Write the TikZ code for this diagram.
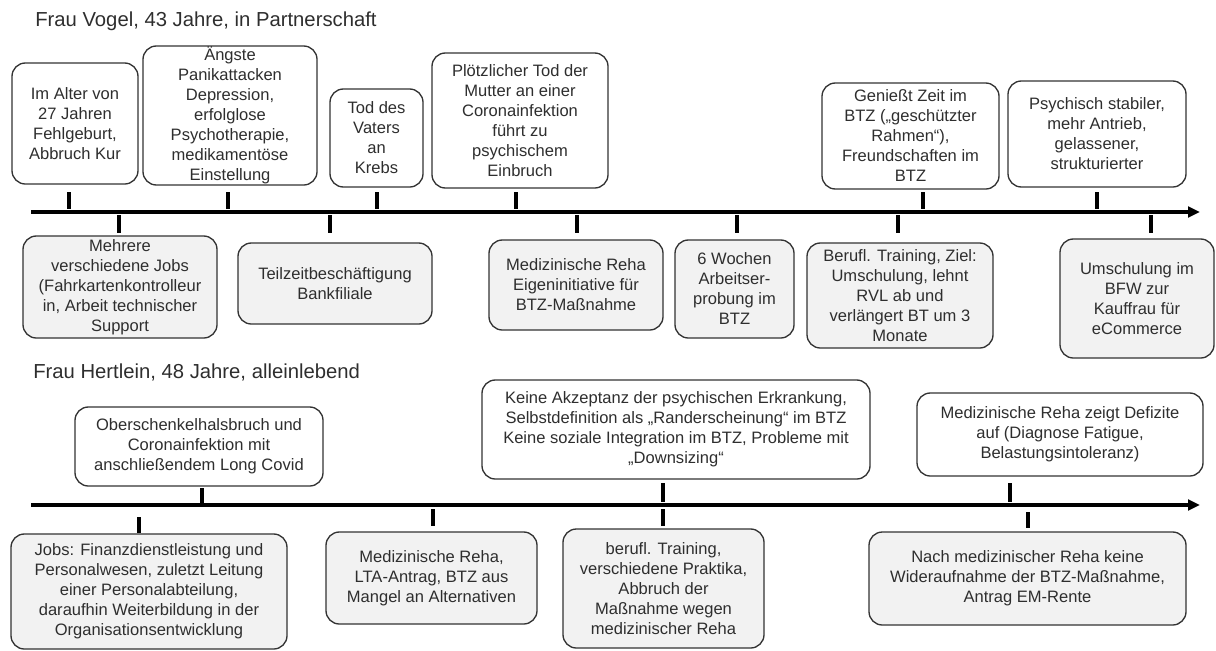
\documentclass[tikz,border=0pt]{standalone}
\usepackage{fontspec}
\setmainfont{Liberation Sans}
\usetikzlibrary{arrows.meta}
\definecolor{txt}{HTML}{2E2E2E}
\definecolor{bord}{HTML}{333333}
\definecolor{fillg}{HTML}{F2F2F2}
\tikzset{
  box/.style={draw=bord, line width=1pt, rounded corners=10pt, align=center,
    inner sep=0pt, text=txt, font=\fontsize{12.4}{15}\selectfont},
  upbox/.style={box, fill=white},
  lowbox/.style={box, fill=fillg},
  tline/.style={line width=3pt, -{Triangle[length=9pt,width=8pt]}},
  tick/.style={line width=2.6pt},
  title/.style={anchor=base west, inner sep=0pt, text=txt, font=\fontsize{15.2}{18}\selectfont},
}
\begin{document}
\begin{tikzpicture}[x=0.75pt,y=-0.75pt]
\useasboundingbox (0,0) rectangle (1216,650);
% ---------- Frau Vogel ----------
\node[title] (t1) at (35,26) {Frau Vogel, 43 Jahre, in Partnerschaft};
\coordinate (l1s) at (31,212);
\coordinate (l1e) at (1200,212);
\draw[tline] (l1s) -- (l1e);

\node[upbox, minimum width=94.5pt, minimum height=90.75pt] (a1) at (75,123.5)
  {Im Alter von\\27 Jahren\\Fehlgeburt,\\Abbruch Kur};
\node[upbox, minimum width=130.5pt, minimum height=104.25pt] (a2) at (230,115.5)
  {Ängste\\Panikattacken\\Depression,\\erfolglose\\Psychotherapie,\\medikamentöse\\Einstellung};
\node[upbox, minimum width=69.75pt, minimum height=73.5pt] (a3) at (376.5,138)
  {Tod des\\Vaters\\an\\Krebs};
\node[upbox, minimum width=132pt, minimum height=101.25pt] (a4) at (520,120.5)
  {Plötzlicher Tod der\\Mutter an einer\\Coronainfektion\\führt zu\\psychischem\\Einbruch};
\node[upbox, minimum width=132.75pt, minimum height=79.5pt] (a5) at (910.5,136)
  {Genießt Zeit im\\BTZ („geschützter\\Rahmen“),\\Freundschaften im\\BTZ};
\node[upbox, minimum width=133.5pt, minimum height=79.5pt] (a6) at (1097,134)
  {Psychisch stabiler,\\mehr Antrieb,\\gelassener,\\strukturierter};

\foreach \x in {69,228,377,516,923,1097} \draw[tick] (\x,192) -- (\x,209);
\foreach \x in {119,330,577,737,898,1151} \draw[tick] (\x,215) -- (\x,233);

\node[lowbox, minimum width=145.5pt, minimum height=76.5pt] (b1) at (120,287)
  {Mehrere\\verschiedene Jobs\\(Fahrkartenkontrolleur\\in, Arbeit technischer\\Support};
\node[lowbox, minimum width=145.5pt, minimum height=60.75pt] (b2) at (335,283.5)
  {Teilzeitbeschäftigung\\Bankfiliale};
\node[lowbox, minimum width=130.5pt, minimum height=67.5pt] (b3) at (576,285)
  {Medizinische Reha\\Eigeninitiative für\\BTZ-Maßnahme};
\node[lowbox, minimum width=89.25pt, minimum height=73.5pt] (b4) at (734.5,289)
  {6 Wochen\\Arbeitser-\\probung im\\BTZ};
\node[lowbox, minimum width=139.5pt, minimum height=78.75pt] (b5) at (900,295.5)
  {Berufl. Training, Ziel:\\Umschulung, lehnt\\RVL ab und\\verlängert BT um 3\\Monate};
\node[lowbox, minimum width=115.5pt, minimum height=89.25pt] (b6) at (1137,298.5)
  {Umschulung im\\BFW zur\\Kauffrau für\\eCommerce};

% ---------- Frau Hertlein ----------
\node[title] (t2) at (33,378) {Frau Hertlein, 48 Jahre, alleinlebend};
\coordinate (l2s) at (31,505);
\coordinate (l2e) at (1200,505);
\draw[tline] (l2s) -- (l2e);

\node[upbox, minimum width=186pt, minimum height=59.25pt] (c1) at (199,446.5)
  {Oberschenkelhalsbruch und\\Coronainfektion mit\\anschließendem Long Covid};
\node[upbox, minimum width=291pt, minimum height=74.25pt] (c2) at (676,429.5)
  {Keine Akzeptanz der psychischen Erkrankung,\\Selbstdefinition als „Randerscheinung“ im BTZ\\Keine soziale Integration im BTZ, Probleme mit\\„Downsizing“};
\node[upbox, minimum width=214.5pt, minimum height=62.25pt] (c3) at (1060,434.5)
  {Medizinische Reha zeigt Defizite\\auf (Diagnose Fatigue,\\Belastungsintoleranz)};

\draw[tick] (202,488) -- (202,503);
\draw[tick] (663,483) -- (663,502);
\draw[tick] (1010,483) -- (1010,502);
\draw[tick] (139,517) -- (139,533);
\draw[tick] (433,509) -- (433,526);
\draw[tick] (663,509) -- (663,526);
\draw[tick] (1028,512) -- (1028,528);

\node[lowbox, minimum width=207pt, minimum height=86.25pt] (d1) at (149,591.5)
  {Jobs: Finanzdienstleistung und\\Personalwesen, zuletzt Leitung\\einer Personalabteilung,\\daraufhin Weiterbildung in der\\Organisationsentwicklung};
\node[lowbox, minimum width=158.25pt, minimum height=69pt] (d2) at (431.5,578)
  {Medizinische Reha,\\LTA-Antrag, BTZ aus\\Mangel an Alternativen};
\node[lowbox, minimum width=150.75pt, minimum height=89.25pt] (d3) at (663.5,588.5)
  {berufl. Training,\\verschiedene Praktika,\\Abbruch der\\Maßnahme wegen\\medizinischer Reha};
\node[lowbox, minimum width=237.75pt, minimum height=69.75pt] (d4) at (1027.5,578.5)
  {Nach medizinischer Reha keine\\Wideraufnahme der BTZ-Maßnahme,\\Antrag EM-Rente};
\end{tikzpicture}
\end{document}
